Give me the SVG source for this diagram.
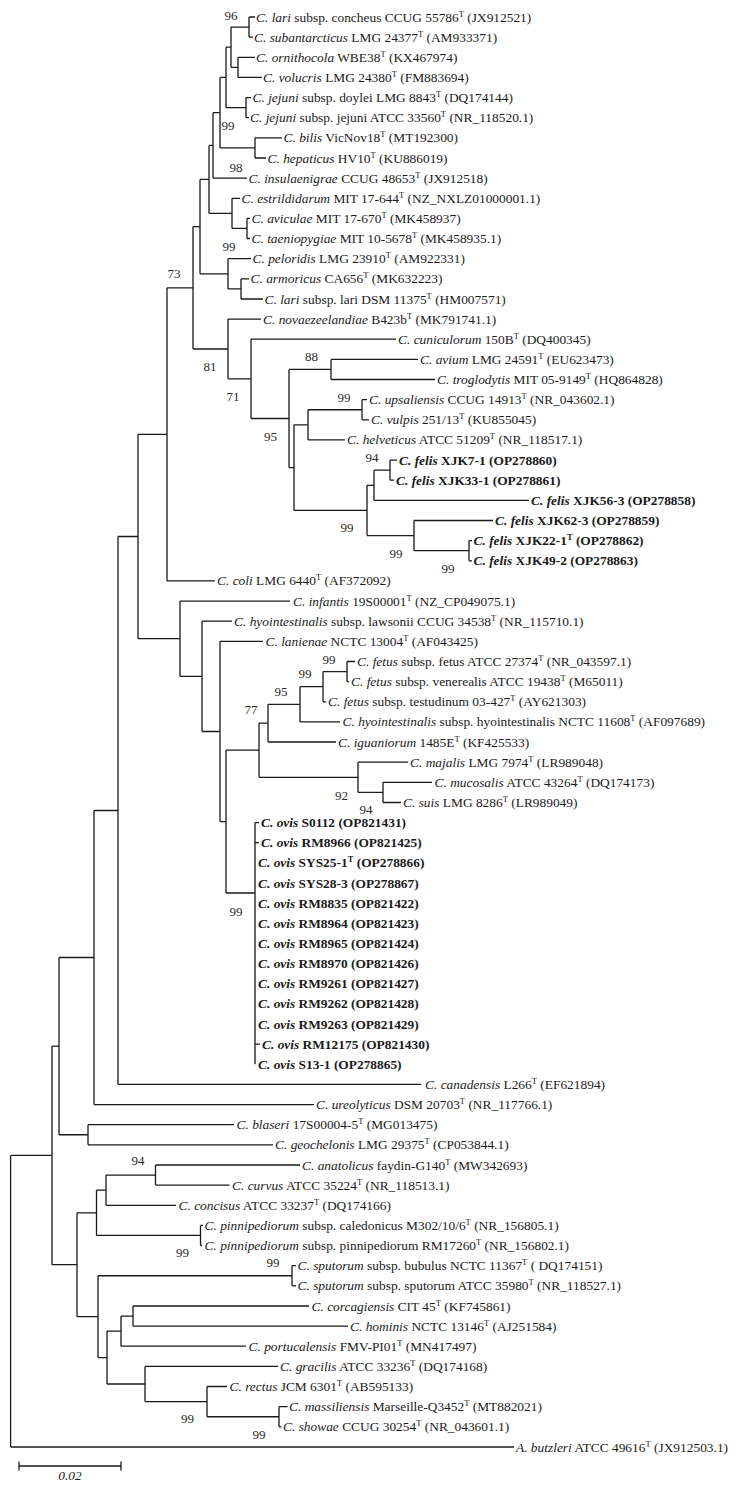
<svg xmlns="http://www.w3.org/2000/svg" width="754" height="1487" viewBox="0 0 754 1487">
<style>
.t{font-family:"Liberation Serif","Times New Roman",serif;font-size:13.4px;fill:#1a1a1a}
.i{font-style:italic}
.b{font-weight:bold}
.s{font-size:8.5px}
.bs{font-family:"Liberation Serif","Times New Roman",serif;font-size:13px;fill:#2a2a2a;text-anchor:middle}
.br{fill:none;stroke:#1a1a1a;stroke-width:1.3}
</style>
<rect width="754" height="1487" fill="#ffffff"/>
<g id="connectors" class="br">
<path d="M249 17V37.1M249 17H255M249 37.1H253"/>
<path d="M238 57.3V77.4M238 57.3H255M238 77.4H262"/>
<path d="M231 27.05V67.35M231 27.05H249M231 67.35H238"/>
<path d="M246 97.6V117.7M246 97.6H251M246 117.7H249"/>
<path d="M226 47.2V107.65M226 47.2H231M226 107.65H246"/>
<path d="M255 137.8V158M255 137.8H282M255 158H266"/>
<path d="M220 77.4V147.9M220 77.4H226M220 147.9H255"/>
<path d="M213 112.65V178.1M213 112.65H220M213 178.1H247"/>
<path d="M247 218.4V238.5M247 218.4H250M247 238.5H250"/>
<path d="M232 198.3V228.45M232 198.3H240M232 228.45H247"/>
<path d="M209 145.4V213.4M209 145.4H213M209 213.4H232"/>
<path d="M241 278.8V299M241 278.8H249M241 299H263"/>
<path d="M228 258.7V288.9M228 258.7H251M228 288.9H241"/>
<path d="M200 179.4V273.8M200 179.4H209M200 273.8H228"/>
<path d="M331 359.4V379.5M331 359.4H418M331 379.5H435"/>
<path d="M362 399.7V419.8M362 399.7H367M362 419.8H369"/>
<path d="M308 409.75V439.9M308 409.75H362M308 439.9H345"/>
<path d="M390 460.1V480.2M390 460.1H397M390 480.2H394"/>
<path d="M374 470.15V500.4M374 470.15H390M374 500.4H529"/>
<path d="M469 540.6V560.8M469 540.6H472M469 560.8H472"/>
<path d="M414 520.5V550.7M414 520.5H493M414 550.7H469"/>
<path d="M367 485.3V535.6M367 485.3H374M367 535.6H414"/>
<path d="M294 424.8V510.45M294 424.8H308M294 510.45H367"/>
<path d="M289 369.45V467.6M289 369.45H331M289 467.6H294"/>
<path d="M251 339.2V418.5M251 339.2H396M251 418.5H289"/>
<path d="M228 319.1V378.85M228 319.1H261M228 378.85H251"/>
<path d="M193 226.6V349M193 226.6H200M193 349H228"/>
<path d="M167 287.8V580.9M167 287.8H193M167 580.9H215"/>
<path d="M347 661.5V681.6M347 661.5H355M347 681.6H349"/>
<path d="M323 671.55V701.8M323 671.55H347M323 701.8H326"/>
<path d="M300 686.7V721.9M300 686.7H323M300 721.9H340"/>
<path d="M268 704.3V742M268 704.3H300M268 742H336"/>
<path d="M383 782.3V802.5M383 782.3H432M383 802.5H401"/>
<path d="M358 762.2V792.4M358 762.2H408M358 792.4H383"/>
<path d="M259 723.15V777.3M259 723.15H268M259 777.3H358"/>
<path d="M255 822.6V1064.3M255 822.6H259M255 842.7H259M255 1044.1H260"/>
<path d="M226 750.2V893M226 750.2H259M226 893H255"/>
<path d="M220 641.3V821.6M220 641.3H263M220 821.6H226"/>
<path d="M202 621.2V731.5M202 621.2H232M202 731.5H220"/>
<path d="M180 601.1V676.3M180 601.1H290M180 676.3H202"/>
<path d="M138 434.35V638.7M138 434.35H167M138 638.7H180"/>
<path d="M118 536.5V1084.4M118 536.5H138M118 1084.4H421"/>
<path d="M94 810.5V1104.6M94 810.5H118M94 1104.6H314"/>
<path d="M88 1124.7V1144.8M88 1124.7H234M88 1144.8H273"/>
<path d="M59 957.5V1134.75M59 957.5H94M59 1134.75H88"/>
<path d="M155.5 1165V1185.1M155.5 1165H300M155.5 1185.1H229.5"/>
<path d="M106 1175.05V1205.3M106 1175.05H155.5M106 1205.3H176"/>
<path d="M200.5 1225.4V1245.5M200.5 1225.4H203M200.5 1245.5H202"/>
<path d="M96.5 1190.2V1235.45M96.5 1190.2H106M96.5 1235.45H200.5"/>
<path d="M292 1265.7V1285.8M292 1265.7H296M292 1285.8H296"/>
<path d="M133 1306V1326.1M133 1306H309M133 1326.1H348"/>
<path d="M121 1316.05V1346.2M121 1316.05H133M121 1346.2H246"/>
<path d="M279 1406.7V1426.8M279 1406.7H287.5M279 1426.8H281.5"/>
<path d="M207 1386.5V1416.75M207 1386.5H227M207 1416.75H279"/>
<path d="M145 1366.4V1401.6M145 1366.4H278M145 1401.6H207"/>
<path d="M107 1331.1V1384M107 1331.1H121M107 1384H145"/>
<path d="M98 1275.75V1357.55M98 1275.75H292M98 1357.55H107"/>
<path d="M77 1212.8V1316.65M77 1212.8H96.5M77 1316.65H98"/>
<path d="M52 1046.1V1264.7M52 1046.1H59M52 1264.7H77"/>
<path d="M10.6 1155.4V1447M10.6 1155.4H52M10.6 1447H514"/>
</g>
<g class="t">
<g id="n00"><text x="256" y="21.5"><tspan class="i">C. lari</tspan> subsp. concheus CCUG 55786<tspan class="s" dy="-5">T</tspan><tspan dy="5"> (JX912521)</tspan></text></g>
<g id="n01"><text x="254" y="41.6"><tspan class="i">C. subantarcticus</tspan> LMG 24377<tspan class="s" dy="-5">T</tspan><tspan dy="5"> (AM933371)</tspan></text></g>
<g id="n02"><text x="256" y="61.8"><tspan class="i">C. ornithocola</tspan> WBE38<tspan class="s" dy="-5">T</tspan><tspan dy="5"> (KX467974)</tspan></text></g>
<g id="n03"><text x="263" y="81.9"><tspan class="i">C. volucris</tspan> LMG 24380<tspan class="s" dy="-5">T</tspan><tspan dy="5"> (FM883694)</tspan></text></g>
<g id="n04"><text x="252.5" y="102.1"><tspan class="i">C. jejuni</tspan> subsp. doylei LMG 8843<tspan class="s" dy="-5">T</tspan><tspan dy="5"> (DQ174144)</tspan></text></g>
<g id="n05"><text x="250" y="122.2"><tspan class="i">C. jejuni</tspan> subsp. jejuni ATCC 33560<tspan class="s" dy="-5">T</tspan><tspan dy="5"> (NR_118520.1)</tspan></text></g>
<g id="n06"><text x="283.5" y="142.3"><tspan class="i">C. bilis</tspan> VicNov18<tspan class="s" dy="-5">T</tspan><tspan dy="5"> (MT192300)</tspan></text></g>
<g id="n07"><text x="267.5" y="162.5"><tspan class="i">C. hepaticus</tspan> HV10<tspan class="s" dy="-5">T</tspan><tspan dy="5"> (KU886019)</tspan></text></g>
<g id="n08"><text x="248.5" y="182.6"><tspan class="i">C. insulaenigrae</tspan> CCUG 48653<tspan class="s" dy="-5">T</tspan><tspan dy="5"> (JX912518)</tspan></text></g>
<g id="n09"><text x="241.5" y="202.8"><tspan class="i">C. estrildidarum</tspan> MIT 17-644<tspan class="s" dy="-5">T</tspan><tspan dy="5"> (NZ_NXLZ01000001.1)</tspan></text></g>
<g id="n10"><text x="251.5" y="222.9"><tspan class="i">C. aviculae</tspan> MIT 17-670<tspan class="s" dy="-5">T</tspan><tspan dy="5"> (MK458937)</tspan></text></g>
<g id="n11"><text x="251.5" y="243"><tspan class="i">C. taeniopygiae</tspan> MIT 10-5678<tspan class="s" dy="-5">T</tspan><tspan dy="5"> (MK458935.1)</tspan></text></g>
<g id="n12"><text x="252.5" y="263.2"><tspan class="i">C. peloridis</tspan> LMG 23910<tspan class="s" dy="-5">T</tspan><tspan dy="5"> (AM922331)</tspan></text></g>
<g id="n13"><text x="250.5" y="283.3"><tspan class="i">C. armoricus</tspan> CA656<tspan class="s" dy="-5">T</tspan><tspan dy="5"> (MK632223)</tspan></text></g>
<g id="n14"><text x="264.5" y="303.5"><tspan class="i">C. lari</tspan> subsp. lari DSM 11375<tspan class="s" dy="-5">T</tspan><tspan dy="5"> (HM007571)</tspan></text></g>
<g id="n15"><text x="263" y="323.6"><tspan class="i">C. novaezeelandiae</tspan> B423b<tspan class="s" dy="-5">T</tspan><tspan dy="5"> (MK791741.1)</tspan></text></g>
<g id="n16"><text x="398" y="343.7"><tspan class="i">C. cuniculorum</tspan> 150B<tspan class="s" dy="-5">T</tspan><tspan dy="5"> (DQ400345)</tspan></text></g>
<g id="n17"><text x="420" y="363.9"><tspan class="i">C. avium</tspan> LMG 24591<tspan class="s" dy="-5">T</tspan><tspan dy="5"> (EU623473)</tspan></text></g>
<g id="n18"><text x="437" y="384"><tspan class="i">C. troglodytis</tspan> MIT 05-9149<tspan class="s" dy="-5">T</tspan><tspan dy="5"> (HQ864828)</tspan></text></g>
<g id="n19"><text x="369" y="404.2"><tspan class="i">C. upsaliensis</tspan> CCUG 14913<tspan class="s" dy="-5">T</tspan><tspan dy="5"> (NR_043602.1)</tspan></text></g>
<g id="n20"><text x="371" y="424.3"><tspan class="i">C. vulpis</tspan> 251/13<tspan class="s" dy="-5">T</tspan><tspan dy="5"> (KU855045)</tspan></text></g>
<g id="n21"><text x="347" y="444.4"><tspan class="i">C. helveticus</tspan> ATCC 51209<tspan class="s" dy="-5">T</tspan><tspan dy="5"> (NR_118517.1)</tspan></text></g>
<g id="n22" class="b"><text x="399" y="464.6"><tspan class="i">C. felis</tspan> XJK7-1 (OP278860)</text></g>
<g id="n23" class="b"><text x="396" y="484.7"><tspan class="i">C. felis</tspan> XJK33-1 (OP278861)</text></g>
<g id="n24" class="b"><text x="531" y="504.9"><tspan class="i">C. felis</tspan> XJK56-3 (OP278858)</text></g>
<g id="n25" class="b"><text x="495" y="525"><tspan class="i">C. felis</tspan> XJK62-3 (OP278859)</text></g>
<g id="n26" class="b"><text x="473.5" y="545.1"><tspan class="i">C. felis</tspan> XJK22-1<tspan class="s" dy="-5">T</tspan><tspan dy="5"> (OP278862)</tspan></text></g>
<g id="n27" class="b"><text x="473.5" y="565.3"><tspan class="i">C. felis</tspan> XJK49-2 (OP278863)</text></g>
<g id="n28"><text x="217" y="585.4"><tspan class="i">C. coli</tspan> LMG 6440<tspan class="s" dy="-5">T</tspan><tspan dy="5"> (AF372092)</tspan></text></g>
<g id="n29"><text x="293" y="605.6"><tspan class="i">C. infantis</tspan> 19S00001<tspan class="s" dy="-5">T</tspan><tspan dy="5"> (NZ_CP049075.1)</tspan></text></g>
<g id="n30"><text x="234" y="625.7"><tspan class="i">C. hyointestinalis</tspan> subsp. lawsonii CCUG 34538<tspan class="s" dy="-5">T</tspan><tspan dy="5"> (NR_115710.1)</tspan></text></g>
<g id="n31"><text x="265.5" y="645.8"><tspan class="i">C. lanienae</tspan> NCTC 13004<tspan class="s" dy="-5">T</tspan><tspan dy="5"> (AF043425)</tspan></text></g>
<g id="n32"><text x="357" y="666"><tspan class="i">C. fetus</tspan> subsp. fetus ATCC 27374<tspan class="s" dy="-5">T</tspan><tspan dy="5"> (NR_043597.1)</tspan></text></g>
<g id="n33"><text x="351" y="686.1"><tspan class="i">C. fetus</tspan> subsp. venerealis ATCC 19438<tspan class="s" dy="-5">T</tspan><tspan dy="5"> (M65011)</tspan></text></g>
<g id="n34"><text x="328" y="706.3"><tspan class="i">C. fetus</tspan> subsp. testudinum 03-427<tspan class="s" dy="-5">T</tspan><tspan dy="5"> (AY621303)</tspan></text></g>
<g id="n35"><text x="342.5" y="726.4"><tspan class="i">C. hyointestinalis</tspan> subsp. hyointestinalis NCTC 11608<tspan class="s" dy="-5">T</tspan><tspan dy="5"> (AF097689)</tspan></text></g>
<g id="n36"><text x="338" y="746.5"><tspan class="i">C. iguaniorum</tspan> 1485E<tspan class="s" dy="-5">T</tspan><tspan dy="5"> (KF425533)</tspan></text></g>
<g id="n37"><text x="410" y="766.7"><tspan class="i">C. majalis</tspan> LMG 7974<tspan class="s" dy="-5">T</tspan><tspan dy="5"> (LR989048)</tspan></text></g>
<g id="n38"><text x="434.5" y="786.8"><tspan class="i">C. mucosalis</tspan> ATCC 43264<tspan class="s" dy="-5">T</tspan><tspan dy="5"> (DQ174173)</tspan></text></g>
<g id="n39"><text x="403" y="807"><tspan class="i">C. suis</tspan> LMG 8286<tspan class="s" dy="-5">T</tspan><tspan dy="5"> (LR989049)</tspan></text></g>
<g id="n40" class="b"><text x="261" y="827.1"><tspan class="i">C. ovis</tspan> S0112 (OP821431)</text></g>
<g id="n41" class="b"><text x="261" y="847.2"><tspan class="i">C. ovis</tspan> RM8966 (OP821425)</text></g>
<g id="n42" class="b"><text x="258" y="867.4"><tspan class="i">C. ovis</tspan> SYS25-1<tspan class="s" dy="-5">T</tspan><tspan dy="5"> (OP278866)</tspan></text></g>
<g id="n43" class="b"><text x="258" y="887.5"><tspan class="i">C. ovis</tspan> SYS28-3 (OP278867)</text></g>
<g id="n44" class="b"><text x="258" y="907.7"><tspan class="i">C. ovis</tspan> RM8835 (OP821422)</text></g>
<g id="n45" class="b"><text x="258" y="927.8"><tspan class="i">C. ovis</tspan> RM8964 (OP821423)</text></g>
<g id="n46" class="b"><text x="258" y="947.9"><tspan class="i">C. ovis</tspan> RM8965 (OP821424)</text></g>
<g id="n47" class="b"><text x="258" y="968.1"><tspan class="i">C. ovis</tspan> RM8970 (OP821426)</text></g>
<g id="n48" class="b"><text x="258" y="988.2"><tspan class="i">C. ovis</tspan> RM9261 (OP821427)</text></g>
<g id="n49" class="b"><text x="258" y="1008.4"><tspan class="i">C. ovis</tspan> RM9262 (OP821428)</text></g>
<g id="n50" class="b"><text x="258" y="1028.5"><tspan class="i">C. ovis</tspan> RM9263 (OP821429)</text></g>
<g id="n51" class="b"><text x="262" y="1048.6"><tspan class="i">C. ovis</tspan> RM12175 (OP821430)</text></g>
<g id="n52" class="b"><text x="258" y="1068.8"><tspan class="i">C. ovis</tspan> S13-1 (OP278865)</text></g>
<g id="n53"><text x="425" y="1088.9"><tspan class="i">C. canadensis</tspan> L266<tspan class="s" dy="-5">T</tspan><tspan dy="5"> (EF621894)</tspan></text></g>
<g id="n54"><text x="316" y="1109.1"><tspan class="i">C. ureolyticus</tspan> DSM 20703<tspan class="s" dy="-5">T</tspan><tspan dy="5"> (NR_117766.1)</tspan></text></g>
<g id="n55"><text x="236.5" y="1129.2"><tspan class="i">C. blaseri</tspan> 17S00004-5<tspan class="s" dy="-5">T</tspan><tspan dy="5"> (MG013475)</tspan></text></g>
<g id="n56"><text x="275" y="1149.3"><tspan class="i">C. geochelonis</tspan> LMG 29375<tspan class="s" dy="-5">T</tspan><tspan dy="5"> (CP053844.1)</tspan></text></g>
<g id="n57"><text x="302" y="1169.5"><tspan class="i">C. anatolicus</tspan> faydin-G140<tspan class="s" dy="-5">T</tspan><tspan dy="5"> (MW342693)</tspan></text></g>
<g id="n58"><text x="232" y="1189.6"><tspan class="i">C. curvus</tspan> ATCC 35224<tspan class="s" dy="-5">T</tspan><tspan dy="5"> (NR_118513.1)</tspan></text></g>
<g id="n59"><text x="178.5" y="1209.8"><tspan class="i">C. concisus</tspan> ATCC 33237<tspan class="s" dy="-5">T</tspan><tspan dy="5"> (DQ174166)</tspan></text></g>
<g id="n60"><text x="204.5" y="1229.9"><tspan class="i">C. pinnipediorum</tspan> subsp. caledonicus M302/10/6<tspan class="s" dy="-5">T</tspan><tspan dy="5"> (NR_156805.1)</tspan></text></g>
<g id="n61"><text x="204.5" y="1250"><tspan class="i">C. pinnipediorum</tspan> subsp. pinnipediorum RM17260<tspan class="s" dy="-5">T</tspan><tspan dy="5"> (NR_156802.1)</tspan></text></g>
<g id="n62"><text x="297.5" y="1270.2"><tspan class="i">C. sputorum</tspan> subsp. bubulus NCTC 11367<tspan class="s" dy="-5">T</tspan><tspan dy="5"> ( DQ174151)</tspan></text></g>
<g id="n63"><text x="297.5" y="1290.3"><tspan class="i">C. sputorum</tspan> subsp. sputorum ATCC 35980<tspan class="s" dy="-5">T</tspan><tspan dy="5"> (NR_118527.1)</tspan></text></g>
<g id="n64"><text x="311.5" y="1310.5"><tspan class="i">C. corcagiensis</tspan> CIT 45<tspan class="s" dy="-5">T</tspan><tspan dy="5"> (KF745861)</tspan></text></g>
<g id="n65"><text x="350" y="1330.6"><tspan class="i">C. hominis</tspan> NCTC 13146<tspan class="s" dy="-5">T</tspan><tspan dy="5"> (AJ251584)</tspan></text></g>
<g id="n66"><text x="248.5" y="1350.7"><tspan class="i">C. portucalensis</tspan> FMV-PI01<tspan class="s" dy="-5">T</tspan><tspan dy="5"> (MN417497)</tspan></text></g>
<g id="n67"><text x="280" y="1370.9"><tspan class="i">C. gracilis</tspan> ATCC 33236<tspan class="s" dy="-5">T</tspan><tspan dy="5"> (DQ174168)</tspan></text></g>
<g id="n68"><text x="229.5" y="1391"><tspan class="i">C. rectus</tspan> JCM 6301<tspan class="s" dy="-5">T</tspan><tspan dy="5"> (AB595133)</tspan></text></g>
<g id="n69"><text x="289" y="1411.2"><tspan class="i">C. massiliensis</tspan> Marseille-Q3452<tspan class="s" dy="-5">T</tspan><tspan dy="5"> (MT882021)</tspan></text></g>
<g id="n70"><text x="283" y="1431.3"><tspan class="i">C. showae</tspan> CCUG 30254<tspan class="s" dy="-5">T</tspan><tspan dy="5"> (NR_043601.1)</tspan></text></g>
<g id="n71"><text x="516" y="1451.5"><tspan class="i">A. butzleri</tspan> ATCC 49616<tspan class="s" dy="-5">T</tspan><tspan dy="5"> (JX912503.1)</tspan></text></g>
</g>
<g id="bootstrap" class="bs">
<text x="231" y="19.5">96</text>
<text x="228" y="129.5">99</text>
<text x="236" y="171.5">98</text>
<text x="229" y="250.5">99</text>
<text x="174" y="277.5">73</text>
<text x="210" y="370.5">81</text>
<text x="311.5" y="360.5">88</text>
<text x="233" y="400.5">71</text>
<text x="344" y="401.5">99</text>
<text x="270.5" y="440.5">95</text>
<text x="372" y="461.5">94</text>
<text x="347" y="531.5">99</text>
<text x="396" y="557.5">99</text>
<text x="448" y="572.5">99</text>
<text x="329" y="663.5">99</text>
<text x="305" y="677.5">99</text>
<text x="281" y="695.5">95</text>
<text x="251" y="713.5">77</text>
<text x="341.5" y="799.5">92</text>
<text x="366" y="813.5">94</text>
<text x="236" y="915.5">99</text>
<text x="138" y="1164.5">94</text>
<text x="182.5" y="1256.5">99</text>
<text x="273" y="1266.5">99</text>
<text x="187.5" y="1422.5">99</text>
<text x="259" y="1438.5">99</text>
</g>
<g id="scalebar">
<path class="br" d="M19 1466H121M19 1461.5V1470.5M121 1461.5V1470.5"/>
<text class="t i" x="70" y="1480" text-anchor="middle" font-size="12.5">0.02</text>
</g>
</svg>
